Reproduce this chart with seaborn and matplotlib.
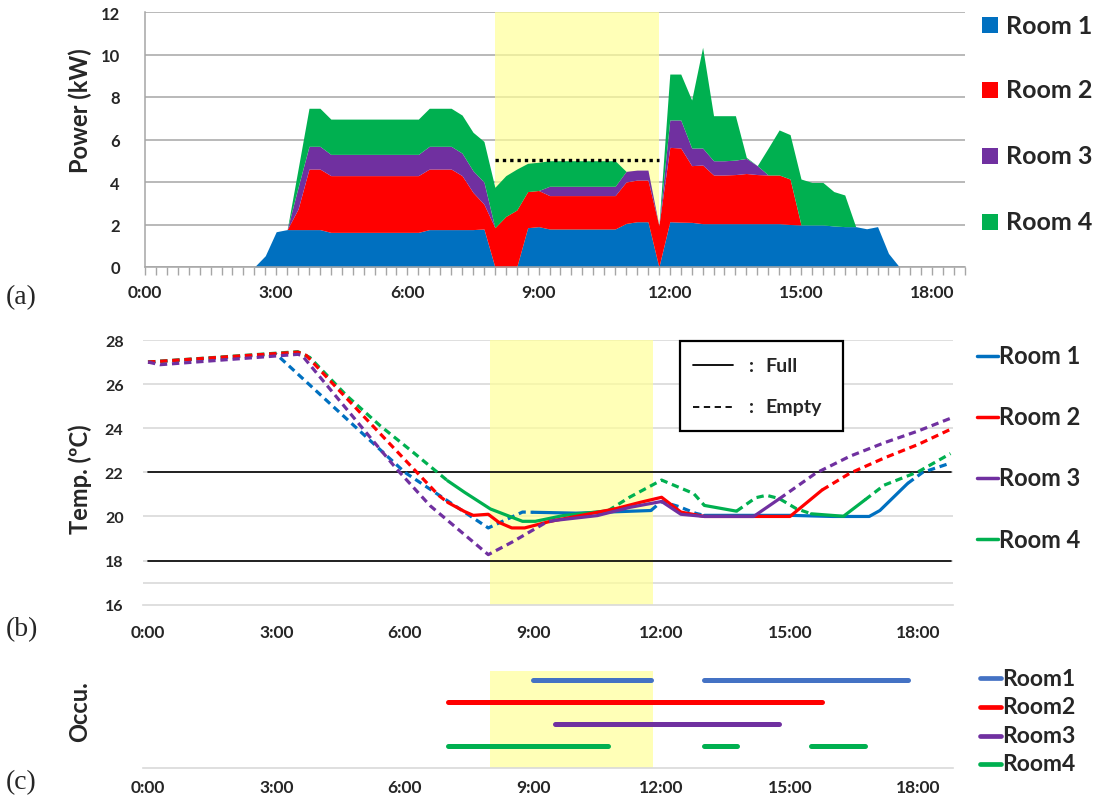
import numpy as np
import pandas as pd
import matplotlib
matplotlib.use("Agg")
import matplotlib.pyplot as plt
import seaborn as sns
from matplotlib.lines import Line2D
from matplotlib.patches import Rectangle

# ---- (a) power per room, 15-min slots 0:00 .. 18:45 (kW) ----
slot_hours = np.arange(0, 19, 0.25)

room1_kw = [0, 0, 0, 0, 0, 0, 0, 0, 0, 0,
            0, 0.53, 1.66, 1.76, 1.76, 1.76, 1.76,
            1.63, 1.63, 1.63, 1.63, 1.63, 1.63, 1.63, 1.63, 1.63,
            1.76, 1.76, 1.76, 1.76, 1.76, 1.79,
            0, 0, 0, 1.85, 1.90,
            1.79, 1.79, 1.79, 1.79, 1.79, 1.79, 1.79,
            2.05, 2.13, 2.13, 0, 2.13, 2.11, 2.10,
            2.04, 2.04, 2.04, 2.04, 2.04, 2.04, 2.04, 2.04,
            2.00, 1.98, 1.98, 1.98, 1.93, 1.90, 1.90, 1.80, 1.90, 0.64,
            0, 0, 0, 0, 0, 0, 0]
room2_kw = [0, 0, 0, 0, 0, 0, 0, 0, 0, 0, 0, 0, 0, 0,
            0.97, 2.85, 2.85,
            2.67, 2.67, 2.67, 2.67, 2.67, 2.67, 2.67, 2.67, 2.67,
            2.85, 2.85, 2.85, 2.54, 1.75, 1.17,
            1.85, 2.38, 2.68, 1.70, 1.70,
            1.57, 1.57, 1.57, 1.57, 1.57, 1.57, 1.57,
            1.95, 1.96, 1.96, 1.95, 3.50, 3.49, 2.67,
            2.76, 2.29, 2.29, 2.31, 2.36, 2.31, 2.29, 2.29,
            2.14, 0, 0, 0, 0, 0, 0, 0, 0,
            0, 0, 0, 0, 0, 0, 0, 0]
room3_kw = [0, 0, 0, 0, 0, 0, 0, 0, 0, 0, 0, 0, 0, 0,
            1.02, 1.07, 1.07,
            1.00, 1.00, 1.00, 1.00, 1.00, 1.00, 1.00, 1.00, 1.00,
            1.07, 1.07, 1.07, 1.06, 1.02, 1.04,
            0, 0, 0, 0, 0,
            0.44, 0.44, 0.44, 0.44, 0.44, 0.44, 0.44,
            0.50, 0.47, 0.47, 0, 1.29, 1.32, 0.83,
            0.80, 0.67, 0.67, 0.68, 0.71, 0.42, 0, 0,
            0, 0, 0, 0, 0, 0, 0, 0, 0,
            0, 0, 0, 0, 0, 0, 0, 0]
room4_kw = [0, 0, 0, 0, 0, 0, 0, 0, 0, 0, 0, 0, 0, 0,
            0.86, 1.79, 1.79,
            1.66, 1.66, 1.66, 1.66, 1.66, 1.66, 1.66, 1.66, 1.66,
            1.79, 1.79, 1.79, 1.79, 1.81, 1.91,
            1.90, 1.92, 1.93, 1.33, 1.33,
            1.20, 1.20, 1.20, 1.20, 1.20, 1.20, 1.20,
            0, 0, 0, 0, 2.16, 2.16, 2.26,
            4.74, 2.12, 2.12, 2.09, 0.05, 0, 1.27, 2.12,
            2.09, 2.16, 2.00, 2.00, 1.62, 1.49, 0, 0, 0,
            0, 0, 0, 0, 0, 0, 0, 0]
target_kw = 5.05
target_start, target_end = 8.0, 11.75

# ---- (b) room temperatures, vertices (hour, degC) ----
room1_t = [0, 3.0, 6.0, 7.95, 8.75, 9.0, 10.0, 11.75, 12.0, 12.4, 12.8, 13.0,
           14.0, 15.0, 16.0, 16.85, 17.1, 17.75, 18.1, 18.75]
room1_temp = [27.0, 27.35, 22.0, 19.48, 20.2, 20.19, 20.15, 20.27, 20.68, 20.45, 20.14, 20.05,
              20.05, 20.05, 20.0, 20.0, 20.27, 21.5, 22.0, 22.42]
room2_t = [0, 3.5, 3.7, 4.4, 6.8, 7.0, 7.4, 7.6, 7.95, 8.2, 8.5, 8.8, 9.4, 10.1, 10.9,
           11.5, 12.0, 12.45, 13.0, 15.0, 15.75, 16.4, 17.2, 18.0, 18.75]
room2_temp = [27.0, 27.45, 27.3, 25.85, 20.94, 20.64, 20.22, 20.05, 20.1, 19.73, 19.48, 19.48,
              19.78, 20.04, 20.34, 20.64, 20.87, 20.2, 20.0, 20.0, 21.2, 21.96, 22.65, 23.27, 23.95]
room3_t = [0, 0.28, 3.5, 3.6, 4.25, 5.03, 5.81, 6.59, 7.95, 8.5, 9.3, 9.5, 10.5, 11.25,
           12.0, 12.45, 13.0, 14.15, 14.75, 15.6, 16.4, 17.2, 18.0, 18.75]
room3_temp = [27.0, 26.88, 27.35, 27.3, 25.78, 23.96, 22.15, 20.49, 18.27, 18.83, 19.73, 19.82,
              20.04, 20.41, 20.68, 20.1, 20.0, 20.0, 20.8, 21.96, 22.73, 23.34, 23.88, 24.45]
room4_t = [0, 3.5, 3.78, 4.64, 5.42, 6.2, 7.0, 7.4, 8.0, 8.75, 9.05, 9.7, 10.75, 11.25,
           12.0, 12.75, 13.0, 13.75, 14.2, 14.45, 14.75, 15.15, 15.5, 16.25, 16.75, 17.2,
           18.0, 18.75]
room4_temp = [27.0, 27.47, 27.21, 25.48, 24.12, 22.9, 21.62, 21.09, 20.34, 19.78, 19.78, 20.04,
              20.26, 20.87, 21.65, 21.04, 20.5, 20.24, 20.85, 20.96, 20.81, 20.35, 20.12,
              20.01, 20.75, 21.42, 22.03, 22.85]
comfort_low, comfort_high = 18, 22

# ---- (c) occupancy periods (start hour, end hour) ----
room1_occ = [(9.0, 11.75), (13.0, 17.75)]
room2_occ = [(7.0, 15.75)]
room3_occ = [(9.5, 14.75)]
room4_occ = [(7.0, 10.75), (13.0, 13.75), (15.5, 16.75)]

dr_start, dr_end = 8.0, 11.8
rooms = ["Room 1", "Room 2", "Room 3", "Room 4"]
colors = ["#0070C0", "#FF0000", "#7030A0", "#00B050"]
occ_colors = ["#4472C4", "#FF0000", "#7030A0", "#00B050"]

sns.set_theme(style="white")
plt.rcParams["font.family"] = ["Lato", "DejaVu Sans"]
plt.rcParams["font.weight"] = "bold"

W, H = 1102, 803
fig = plt.figure(figsize=(W / 100, H / 100), dpi=100)


def rect(left, top, right, bottom):
    return [left / W, 1 - bottom / H, (right - left) / W, (bottom - top) / H]


def fx(px):
    return px / W


def fy(py):
    return 1 - py / H


hour_ticks = [0, 3, 6, 9, 12, 15, 18]
hour_labels = [f"{h}:00" for h in hour_ticks]

# ================= (a) =================
ax_a = fig.add_axes(rect(145, 13, 965, 268))
ax_a.set_axisbelow(True)
ax_a.axvspan(dr_start, 11.75, color="#FFFF99", alpha=0.7, lw=0, zorder=1)
ax_a.stackplot(slot_hours, room1_kw, room2_kw, room3_kw, room4_kw,
               colors=colors, linewidth=0, zorder=2)
ax_a.plot([target_start, target_end], [target_kw, target_kw], color="black",
          linestyle=(0, (1, 1.2)), lw=2.4, zorder=3)
ax_a.set_xlim(0, 18.75)
ax_a.set_ylim(0, 12)
ax_a.set_yticks(range(0, 13, 2))
ax_a.yaxis.grid(True, color="#A6A6A6", lw=1.1)
ax_a.set_xticks(hour_ticks)
ax_a.set_xticklabels(hour_labels, fontsize=12.5, fontweight="bold")
ax_a.set_xticks(slot_hours, minor=True)
ax_a.tick_params(axis="x", which="both", direction="out", length=6, color="#A6A6A6",
                 width=1, pad=6, bottom=True)
ax_a.tick_params(axis="y", labelsize=12, pad=12, left=False)
for lab in ax_a.get_yticklabels():
    lab.set_fontweight("bold")
for side in ["top", "right"]:
    ax_a.spines[side].set_visible(False)
for side in ["left", "bottom"]:
    ax_a.spines[side].set_color("#A6A6A6")
    ax_a.spines[side].set_linewidth(1.1)

# ================= (b) =================
x0b = -5 / 42.8
x1b = 805 / 42.8
ax_b = fig.add_axes(rect(143, 341, 953, 605.7))
ax_b.set_axisbelow(True)
ax_b.axvspan(dr_start, dr_end, color="#FFFF99", alpha=0.7, lw=0, zorder=1)
for g in [17, 18, 20, 22, 24, 26, 28]:
    ax_b.axhline(g, color="#D9D9D9", lw=1.2, zorder=0.5)
for g in [comfort_low, comfort_high]:
    ax_b.plot([0, 18.75], [g, g], color="black", lw=1.2, zorder=2)

temp_sets = [(room1_t, room1_temp, room1_occ), (room2_t, room2_temp, room2_occ),
             (room3_t, room3_temp, room3_occ), (room4_t, room4_temp, room4_occ)]
draw_order = [0, 3, 1, 2]
for zi, i in enumerate(draw_order):
    t, temp, occ = temp_sets[i]
    # split vertex chain into solid (occupied) / dashed (empty) runs
    runs = []
    for j in range(len(t) - 1):
        mid = (t[j] + t[j + 1]) / 2
        full = any(s <= mid <= e for s, e in occ)
        if runs and runs[-1][0] == full:
            runs[-1][1].append(j + 1)
        else:
            runs.append([full, [j, j + 1]])
    for full, idx in runs:
        seg = pd.DataFrame({"hour": [t[k] for k in idx], "temp": [temp[k] for k in idx]})
        ls = "-" if full else (0, (2.3, 1.5))
        sns.lineplot(data=seg, x="hour", y="temp", ax=ax_b, color=colors[i], lw=2.3,
                     linestyle=ls, sort=False, estimator=None, zorder=3 + zi)
ax_b.set_xlim(x0b, x1b)
ax_b.set_ylim(16, 28)
ax_b.set_yticks(range(16, 29, 2))
ax_b.set_xticks(hour_ticks)
ax_b.set_xticklabels(hour_labels, fontsize=12.5, fontweight="bold")
ax_b.tick_params(axis="x", length=0, pad=14)
ax_b.tick_params(axis="y", length=0, labelsize=11.5, pad=14)
for lab in ax_b.get_yticklabels():
    lab.set_fontweight("bold")
ax_b.set_xlabel("")
ax_b.set_ylabel("")
for side in ["top", "right", "left"]:
    ax_b.spines[side].set_visible(False)
ax_b.spines["bottom"].set_color("#D9D9D9")
ax_b.spines["bottom"].set_linewidth(1.2)

# ================= (c) =================
occ_sets = [room1_occ, room2_occ, room3_occ, room4_occ]
occ_rows = [4, 3, 2, 1]
ax_c = fig.add_axes(rect(143, 672, 953, 769))
ax_c.axvspan(dr_start, dr_end, color="#FFFF99", alpha=0.7, lw=0, zorder=1)
for i, occ in enumerate(occ_sets):
    for s, e in occ:
        seg = pd.DataFrame({"hour": [s, e], "row": [occ_rows[i], occ_rows[i]]})
        sns.lineplot(data=seg, x="hour", y="row", ax=ax_c, color=occ_colors[i], lw=3.6,
                     solid_capstyle="round", estimator=None, zorder=3)
ax_c.set_xlim(x0b, x1b)
ax_c.set_ylim(0, 4.4)
ax_c.set_yticks([])
ax_c.set_xticks(hour_ticks)
ax_c.set_xticklabels(hour_labels, fontsize=12.5, fontweight="bold")
ax_c.tick_params(axis="x", length=0, pad=8)
ax_c.set_xlabel("")
ax_c.set_ylabel("")
for side in ["top", "right", "left"]:
    ax_c.spines[side].set_visible(False)
ax_c.spines["bottom"].set_color("#D9D9D9")
ax_c.spines["bottom"].set_linewidth(1.2)

# ---- Full / Empty key ----
fig.add_artist(Rectangle((fx(680), fy(432)), (843 - 680) / W, (432 - 342) / H,
                         transform=fig.transFigure, facecolor="white",
                         edgecolor="black", lw=1.6, zorder=10))
fig.add_artist(Line2D([fx(693), fx(733)], [fy(366), fy(366)], transform=fig.transFigure,
                      color="black", lw=1.3, zorder=11))
fig.add_artist(Line2D([fx(693), fx(733)], [fy(408), fy(408)], transform=fig.transFigure,
                      color="black", lw=1.3, linestyle=(0, (3.5, 2.5)), zorder=11))
for py, word in [(366, "Full"), (408, "Empty")]:
    fig.text(fx(752), fy(py), ":", fontsize=14, fontweight="bold", va="center",
             ha="center", zorder=12)
    fig.text(fx(765), fy(py), word, fontsize=14, fontweight="bold", va="center",
             ha="left", zorder=12)

# ---- legends on the right ----
for i, (name, py) in enumerate(zip(rooms, [26, 91, 157, 223])):
    fig.add_artist(Rectangle((fx(982), fy(py + 8)), 16 / W, 16 / H,
                             transform=fig.transFigure, facecolor=colors[i], lw=0))
    fig.text(fx(1006), fy(py), name, fontsize=18, fontweight="bold", va="center")
for i, (name, py) in enumerate(zip(rooms, [357, 418, 479, 540])):
    fig.add_artist(Line2D([fx(977), fx(998)], [fy(py), fy(py)], transform=fig.transFigure,
                          color=colors[i], lw=2.5))
    fig.text(fx(999), fy(py), name, fontsize=17, fontweight="bold", va="center")
for i, (name, py) in enumerate(zip(["Room1", "Room2", "Room3", "Room4"], [679, 708, 737, 765])):
    fig.add_artist(Line2D([fx(980), fx(1001)], [fy(py), fy(py)], transform=fig.transFigure,
                          color=occ_colors[i], lw=3.4, solid_capstyle="round"))
    fig.text(fx(1002), fy(py), name, fontsize=16.5, fontweight="bold", va="center")

# ---- axis titles and panel tags ----
fig.text(fx(80), fy(111), "Power (kW)", rotation=90, fontsize=17, fontweight="bold",
         ha="center", va="center")
fig.text(fx(80), fy(479), "Temp. (ºC)", rotation=90, fontsize=17, fontweight="bold",
         ha="center", va="center")
fig.text(fx(80), fy(712), "Occu.", rotation=90, fontsize=17, fontweight="bold",
         ha="center", va="center")
for tag, py in [("(a)", 298), ("(b)", 630), ("(c)", 783)]:
    fig.text(fx(6), fy(py), tag, fontsize=20, family="Liberation Serif",
             fontweight="normal", ha="left", va="center")

fig.savefig("out.png", dpi=100)
